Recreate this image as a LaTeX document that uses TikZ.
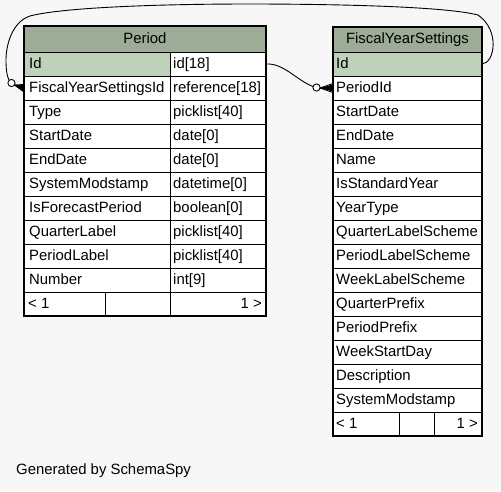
\documentclass[tikz,border=0pt]{standalone}
\usepackage{fontspec}
\setmainfont{Liberation Sans}
\definecolor{bgc}{HTML}{F7F7F7}
\definecolor{headc}{HTML}{9CAC96}
\definecolor{pkc}{HTML}{BED1B9}
\begin{document}
\begin{tikzpicture}[x=1pt,y=-1pt,
  txt/.style={font=\fontsize{14.9}{16}\selectfont, inner sep=0pt, anchor=west, text height=10.5pt, text depth=3pt},
  conn/.style={draw=black, line width=0.9pt},
  dotc/.style={draw=black, line width=0.9pt, fill=white}]
\fill[bgc] (0,0) rectangle (501,491);
\useasboundingbox (0,0) rectangle (501,491);

% ---------- Period table ----------
\fill[headc] (24,26) rectangle (266,52);
\fill[pkc] (24,52) rectangle (170,76);
\fill[white] (170,52) rectangle (266,76);
\fill[white] (24,76) rectangle (266,316);
\foreach \y in {52,76,100,124,148,172,196,220,244,268,292}
  \draw[line width=0.9pt] (24,\y) -- (266,\y);
\draw[line width=0.9pt] (170,52) -- (170,316);
\draw[line width=0.9pt] (105,292) -- (105,316);
\draw[line width=2.4pt] (24,26) rectangle (266,316);
\node[txt, anchor=center] (pt) at (145,40) {Period};
\foreach \n/\t/\ty [count=\i] in {
  pid/Id/id[18],
  pfys/FiscalYearSettingsId/reference[18],
  ptype/Type/picklist[40],
  psd/StartDate/date[0],
  ped/EndDate/date[0],
  psm/SystemModstamp/datetime[0],
  pifp/IsForecastPeriod/boolean[0],
  pql/QuarterLabel/picklist[40],
  ppl/PeriodLabel/picklist[40],
  pnum/Number/int[9]}
{
  \node[txt] (\n) at (29,{52+24*\i-11}) {\t};
  \node[txt] (\n t) at (173,{52+24*\i-11}) {\ty};
}
\node[txt] (pfl) at (28,305) {< 1};
\node[txt, anchor=east] (pfr) at (262,305) {1 >};

% ---------- FiscalYearSettings table ----------
\fill[headc] (333,27) rectangle (482,52);
\fill[pkc] (333,52) rectangle (482,76);
\fill[white] (333,76) rectangle (482,436);
\foreach \y in {52,76,100,124,148,172,196,220,244,268,292,316,340,364,388,412}
  \draw[line width=0.9pt] (333,\y) -- (482,\y);
\draw[line width=0.9pt] (399,412) -- (399,436);
\draw[line width=0.9pt] (434,412) -- (434,436);
\draw[line width=1.1pt] (333,27) rectangle (482,436);
\node[txt, anchor=center] (ft) at (407.5,40) {FiscalYearSettings};
\foreach \n/\t [count=\i] in {
  fid/Id, fpid/PeriodId, fsd/StartDate, fed/EndDate, fname/Name,
  fisy/IsStandardYear, fyt/YearType, fqls/QuarterLabelScheme,
  fpls/PeriodLabelScheme, fwls/WeekLabelScheme, fqp/QuarterPrefix,
  fpp/PeriodPrefix, fwsd/WeekStartDay, fdesc/Description, fsm/SystemModstamp}
{
  \node[txt] (\n) at (336,{52+24*\i-11}) {\t};
}
\node[txt] (ffl) at (336,425) {< 1};
\node[txt, anchor=east] (ffr) at (478,425) {1 >};

% ---------- connectors ----------
\coordinate (a1) at (266,64);
\coordinate (c1) at (316.5,87.5);
\draw[conn] (a1) .. controls (284,63) and (296,80) .. (313,86.5);
\draw[dotc] (c1) circle (3.6);
\coordinate (k1) at (320,88);
\draw[conn] (k1) -- (333,83.5);
\draw[conn] (k1) -- (333,88);
\draw[conn] (k1) -- (333,92.5);
\fill (k1) -- (333,84.5) -- (333,91.5) -- cycle;

\coordinate (a2) at (482,64);
\coordinate (c2) at (11.5,83);
\draw[conn] (a2) .. controls (495,63) and (500,30) .. (478,15)
  .. controls (440,5) and (300,4) .. (250,4)
  .. controls (150,4) and (60,8) .. (30,16)
  .. controls (12,22) and (6,45) .. (6,60)
  .. controls (6,70) and (7,76) .. (9,80);
\draw[dotc] (c2) circle (3.6);
\coordinate (k2) at (14.5,85);
\draw[conn] (k2) -- (24,84.5);
\draw[conn] (k2) -- (24,88);
\draw[conn] (k2) -- (24,92);
\fill (k2) -- (24,85) -- (24,92) -- cycle;

\node[txt] (gen) at (16,471) {Generated by SchemaSpy};
\end{tikzpicture}
\end{document}
